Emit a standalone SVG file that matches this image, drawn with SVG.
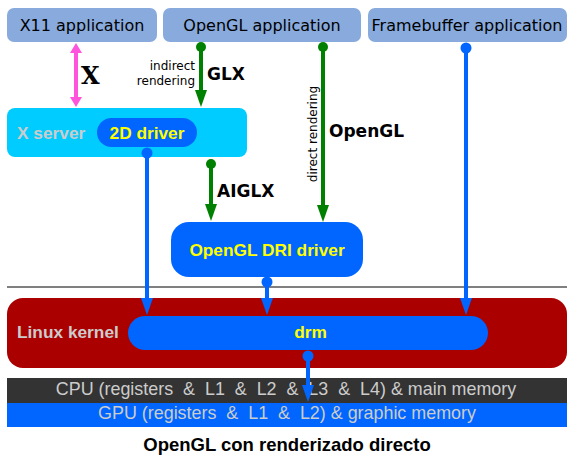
<svg xmlns="http://www.w3.org/2000/svg" width="577" height="458" viewBox="0 0 577 458">
<style>
.app{fill:#88aadd}
.appt{font-family:"DejaVu Sans",sans-serif;font-size:16px;fill:#000;text-anchor:middle}
.lbl{font-family:"Liberation Sans",Arial,sans-serif;font-weight:bold;font-size:17.3px}
.gray{fill:#cccccc}
.yel{fill:#ffff00;text-anchor:middle}
.conn{font-family:"DejaVu Sans",sans-serif;font-weight:bold;font-size:17px;fill:#000}
.small{font-family:"DejaVu Sans",sans-serif;font-size:12px;fill:#000}
.g{stroke:#008000;stroke-width:4;fill:none}
.b{stroke:#0066ff;stroke-width:4;fill:none}
.mem{font-family:"Liberation Sans",Arial,sans-serif;font-size:17.9px;fill:#cccccc;text-anchor:middle;white-space:pre}
</style>
<rect width="577" height="458" fill="#ffffff"/>
<g id="x11app"><rect class="app" x="7" y="8" width="150" height="34" rx="7"/><text class="appt" x="82" y="31">X11 application</text></g>
<g id="oglapp"><rect class="app" x="163" y="8" width="198" height="34" rx="7"/><text class="appt" x="262" y="31">OpenGL application</text></g>
<g id="fbapp"><rect class="app" x="368" y="8" width="199" height="34" rx="7"/><text class="appt" x="467" y="31">Framebuffer application</text></g>
<g id="xserver"><rect x="7" y="108" width="240" height="49" rx="8" fill="#00ccff"/><text class="lbl gray" x="17" y="139" font-size="17.5">X server</text>
<rect x="97" y="118" width="100" height="29" rx="14.5" fill="#0066ff"/><text class="lbl yel" x="147" y="139">2D driver</text></g>
<g id="dri"><rect x="171" y="222" width="192" height="55" rx="18" fill="#0066ff"/><text class="lbl yel" x="267" y="256" font-size="17.6">OpenGL DRI driver</text></g>
<line x1="7" y1="287" x2="567" y2="287" stroke="#000" stroke-width="1"/>
<g id="kernel"><rect x="7" y="298" width="560" height="70" rx="16" fill="#aa0000"/><text class="lbl gray" x="17" y="338" font-size="17.7">Linux kernel</text>
<rect x="128" y="316" width="360" height="34" rx="17" fill="#0066ff"/><text class="lbl yel" x="310.5" y="338" font-size="17.5">drm</text></g>
<g id="cpu"><rect x="7" y="378" width="560" height="25" fill="#333333"/><text class="mem" x="286" y="395" xml:space="preserve">CPU (registers  &amp;  L1  &amp;  L2  &amp;  L3  &amp;  L4) &amp; main memory</text></g>
<g id="gpu"><rect x="7" y="403" width="560" height="24" fill="#0066ff"/><text class="mem" x="287" y="419" xml:space="preserve">GPU (registers  &amp;  L1  &amp;  L2) &amp; graphic memory</text></g>
<g id="connectors">
<line x1="76" y1="52" x2="76" y2="98" stroke="#ff55dd" stroke-width="4"/>
<path d="M70,53 L76,43 L82,53 Z M70,97 L76,107 L82,97 Z" fill="#ff55dd"/>
<text x="81" y="84" font-family="'DejaVu Serif',serif" font-weight="bold" font-size="24" fill="#000">X</text>
<circle cx="201" cy="47" r="5" fill="#008000"/>
<line class="g" x1="201" y1="47" x2="201" y2="92"/><path d="M195,90 L207,90 L201,107 Z" fill="#008000"/>
<text class="small" x="195" y="70" text-anchor="end">indirect</text>
<text class="small" x="195" y="85" text-anchor="end">rendering</text>
<text class="conn" x="207" y="80">GLX</text>
<circle cx="323" cy="47" r="5" fill="#008000"/>
<line class="g" x1="323" y1="47" x2="323" y2="207"/><path d="M317,205 L329,205 L323,222 Z" fill="#008000"/>
<text class="small" transform="translate(317,134) rotate(-90)" text-anchor="middle">direct rendering</text>
<text class="conn" x="329" y="137">OpenGL</text>
<circle cx="211" cy="164" r="5" fill="#008000"/>
<line class="g" x1="211" y1="164" x2="211" y2="206"/><path d="M205,204 L217,204 L211,221 Z" fill="#008000"/>
<text class="conn" x="217" y="197">AIGLX</text>
<circle cx="147" cy="153" r="5.5" fill="#0066ff"/>
<line class="b" x1="147" y1="153" x2="147" y2="300"/><path d="M141,298 L153,298 L147,315 Z" fill="#0066ff"/>
<circle cx="267" cy="282" r="5.5" fill="#0066ff"/>
<line class="b" x1="267" y1="282" x2="267" y2="300"/><path d="M261,298 L273,298 L267,315 Z" fill="#0066ff"/>
<circle cx="466" cy="48" r="5.5" fill="#0066ff"/>
<line class="b" x1="466" y1="48" x2="466" y2="300"/><path d="M460,298 L472,298 L466,315 Z" fill="#0066ff"/>
<circle cx="308" cy="356" r="5.5" fill="#0066ff"/>
<line class="b" x1="308" y1="356" x2="308" y2="387"/><path d="M302,385 L314,385 L308,402 Z" fill="#0066ff"/>
</g>
<text x="287" y="451" font-family="'Liberation Sans',Arial,sans-serif" font-weight="bold" font-size="18.5" fill="#000" text-anchor="middle">OpenGL con renderizado directo</text>
</svg>
